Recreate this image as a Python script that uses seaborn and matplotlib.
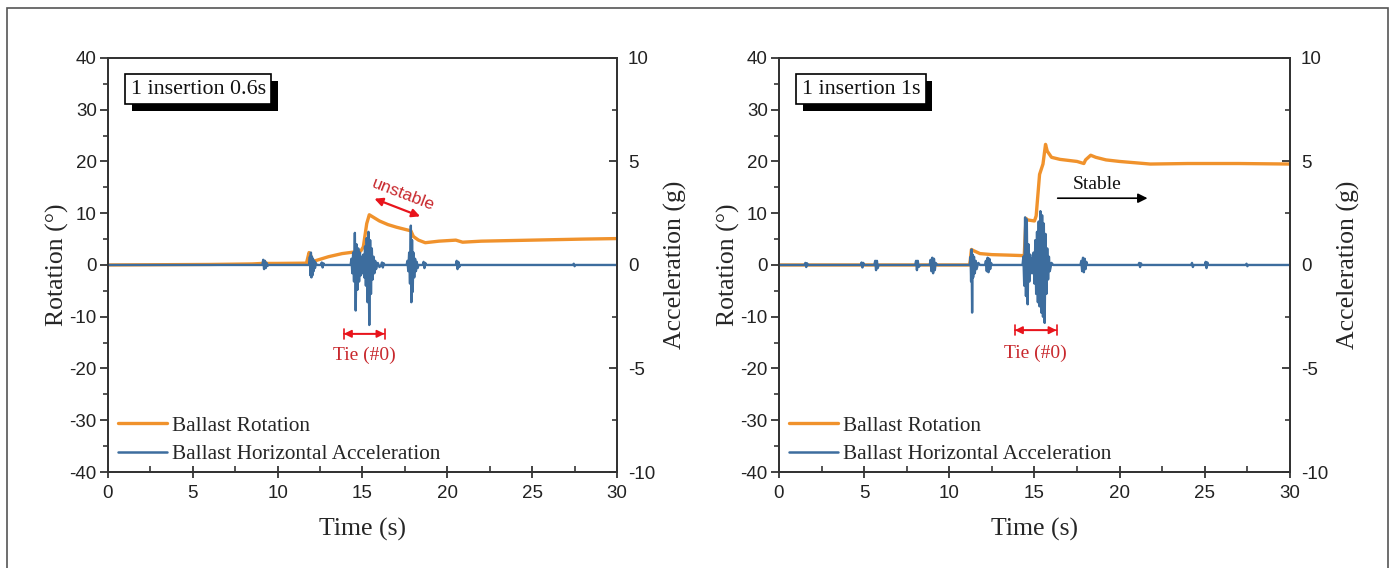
import matplotlib
matplotlib.use("Agg")
import matplotlib.pyplot as plt
import matplotlib.patheffects as pe
from matplotlib.patches import Rectangle
from matplotlib.lines import Line2D
from matplotlib.ticker import MultipleLocator
import seaborn as sns
import pandas as pd

# ---------------- data ----------------
rot_left_t = [0, 3, 6, 8.5, 9.1, 9.2, 9.35, 10, 11.7, 11.85, 11.95, 12.05, 12.2, 13.0, 13.8,
              14.5, 14.9, 15.05, 15.25, 15.4, 15.6, 16.0, 16.5, 17.0, 17.6, 17.85, 18.0, 18.3,
              18.7, 19.5, 20.5, 20.7, 20.9, 22, 25, 28, 30]
rot_left = [0, 0.05, 0.1, 0.2, 0.3, 0.7, 0.3, 0.3, 0.35, 2.4, 1.8, 0.6, 0.8, 1.6, 2.2,
            2.5, 2.7, 3.5, 8.0, 9.7, 9.3, 8.5, 7.8, 7.3, 6.8, 6.6, 5.5, 4.8,
            4.3, 4.6, 4.8, 4.6, 4.4, 4.6, 4.8, 5.0, 5.1]

acc_left_t = [0, 9.1, 9.15, 9.2, 9.25, 9.3, 9.35, 9.4, 9.45,
              11.85, 11.9, 11.93, 11.96, 11.99, 12.02, 12.05, 12.08, 12.12, 12.16, 12.2, 12.25, 12.3,
              12.55, 12.6, 12.65, 12.7, 12.75,
              14.3, 14.35, 14.4, 14.45, 14.5, 14.55, 14.6, 14.65, 14.7, 14.75, 14.8, 14.85, 14.9,
              14.95, 15.0, 15.05, 15.1, 15.15, 15.2, 15.25, 15.3, 15.35, 15.4, 15.45, 15.5, 15.55,
              15.6, 15.65, 15.7, 15.75, 15.8, 15.9, 16.0, 16.1,
              16.15, 16.2, 16.25, 16.3,
              17.6, 17.65, 17.7, 17.75, 17.8, 17.85, 17.88, 17.92, 17.96, 18.0, 18.05, 18.1, 18.15,
              18.2, 18.25, 18.3,
              18.55, 18.6, 18.65, 18.7, 18.75,
              20.5, 20.55, 20.6, 20.65, 20.7, 20.75,
              27.4, 27.45, 27.5, 27.55, 30]
acc_left = [0, 0, 0.25, -0.2, 0.2, -0.15, 0.1, -0.05, 0,
            0, 0.4, -0.5, 0.6, -0.6, 0.4, -0.5, 0.3, -0.3, 0.2, -0.15, 0.1, 0,
            0, 0.12, -0.12, 0.08, 0,
            0, 0.3, -0.4, 0.6, -0.8, 1.55, -2.2, 1.0, -1.2, 0.8, -0.8, 0.6, -0.5,
            0.4, -0.4, 0.5, -0.6, 0.9, -1.0, 1.3, -1.8, 1.6, -2.9, 1.2, -1.4, 0.8,
            -0.7, 0.4, -0.4, 0.2, -0.2, 0.1, -0.1, 0,
            0.12, -0.12, 0.08, 0,
            0, 0.2, -0.3, 0.6, -0.9, 1.9, -1.8, 1.2, -1.3, 0.6, -0.6, 0.3, -0.3,
            0.15, -0.15, 0,
            0, 0.15, -0.15, 0.1, 0,
            0, 0.2, -0.2, 0.15, -0.1, 0,
            0, 0.06, -0.06, 0, 0]

rot_right_t = [0, 11.2, 11.3, 11.4, 11.8, 12.5, 13.5, 14.4, 14.5, 14.6, 15.0, 15.1, 15.3, 15.5,
               15.65, 15.75, 16.0, 16.5, 17.5, 17.9, 18.0, 18.3, 18.6, 19.2, 20, 21.8, 24, 27, 30]
rot_right = [0, 0, 3.0, 2.8, 2.2, 2.0, 1.9, 1.8, 9.0, 8.7, 8.5, 9.5, 17.5, 19.5,
             23.3, 22.0, 20.8, 20.4, 20.0, 19.6, 20.3, 21.2, 20.8, 20.3, 20.0, 19.5, 19.6, 19.6, 19.5]

acc_right_t = [0, 1.5, 1.55, 1.6, 1.65, 1.7, 4.8, 4.85, 4.9, 4.95, 5.0,
               5.6, 5.65, 5.7, 5.75, 5.8, 5.85, 8.0, 8.05, 8.1, 8.15, 8.2, 8.3,
               8.85, 8.9, 8.95, 9.0, 9.05, 9.1, 9.15, 9.2, 9.3,
               11.2, 11.25, 11.28, 11.31, 11.34, 11.37, 11.4, 11.45, 11.5, 11.55, 11.6, 11.7, 11.8,
               12.1, 12.15, 12.2, 12.25, 12.3, 12.35, 12.4, 12.45, 12.5,
               14.3, 14.35, 14.4, 14.45, 14.5, 14.55, 14.6, 14.65, 14.7, 14.75, 14.8, 14.85, 14.9,
               14.95, 15.0, 15.05, 15.1, 15.15, 15.2, 15.25, 15.3, 15.35, 15.4, 15.45, 15.5, 15.55,
               15.6, 15.65, 15.7, 15.75, 15.8, 15.85, 15.9, 16.0, 16.1,
               17.7, 17.75, 17.8, 17.85, 17.9, 17.95, 18.0, 18.05, 18.1,
               21.1, 21.15, 21.2, 21.25, 21.3, 24.2, 24.25, 24.3, 24.35,
               25.0, 25.05, 25.1, 25.15, 25.2, 27.4, 27.45, 27.5, 27.55, 30]
acc_right = [0, 0, 0.1, -0.1, 0.08, 0, 0, 0.12, -0.12, 0.1, 0,
             0, 0.2, -0.25, 0.2, -0.15, 0, 0, 0.2, -0.25, 0.2, -0.1, 0,
             0, 0.25, -0.3, 0.35, -0.4, 0.3, -0.25, 0.1, 0,
             0, 0.4, -0.8, 0.75, -2.3, 0.5, -0.6, 0.4, -0.4, 0.2, -0.2, 0.1, 0,
             0, 0.2, -0.3, 0.35, -0.35, 0.3, -0.2, 0.1, 0,
             0, 0.4, -1.0, 2.3, -1.5, 2.2, -1.9, 1.0, -0.8, 0.5, -0.4, 0.3, -0.4,
             0.6, -0.9, 1.2, -1.4, 1.6, -1.8, 2.1, -2.0, 2.6, -2.3, 2.4, -2.5, 2.0,
             -2.8, 1.5, -1.4, 0.8, -0.7, 0.4, -0.3, 0.1, 0,
             0, 0.2, -0.3, 0.35, -0.35, 0.3, -0.2, 0.15, 0,
             0, 0.1, -0.1, 0.08, 0, 0, 0.1, -0.1, 0,
             0, 0.15, -0.15, 0.12, 0, 0, 0.06, -0.06, 0, 0]

panel_titles = ["1 insertion 0.6s", "1 insertion 1s"]
x_ticks = [0, 5, 10, 15, 20, 25, 30]
rot_ticks = [-40, -30, -20, -10, 0, 10, 20, 30, 40]
acc_ticks = [-10, -5, 0, 5, 10]

ORANGE = "#F0922C"
BLUE = "#3D6D9E"
RED = "#E8141C"
DARKRED = "#C8282D"
SERIF = ["Liberation Serif", "DejaVu Serif"]
SANS = ["Liberation Sans", "DejaVu Sans"]

sns.set_style("ticks")
plt.rcParams["font.family"] = SANS
plt.rcParams["axes.edgecolor"] = "#333333"
plt.rcParams["axes.linewidth"] = 1.3
plt.rcParams["axes.unicode_minus"] = False

fig = plt.figure(figsize=(13.95, 5.68), dpi=100)
fig.patches.append(Rectangle((0.005, -0.02), 0.99, 1.006, transform=fig.transFigure,
                             fill=False, edgecolor="#555555", linewidth=1.2))

positions = [[0.0774, 0.169, 0.3649, 0.729], [0.5584, 0.169, 0.3663, 0.729]]
rot_data = [(rot_left_t, rot_left), (rot_right_t, rot_right)]
acc_data = [(acc_left_t, acc_left), (acc_right_t, acc_right)]

for i in range(2):
    ax = fig.add_axes(positions[i])
    ax2 = ax.twinx()
    dfr = pd.DataFrame({"t": rot_data[i][0], "v": rot_data[i][1]})
    dfa = pd.DataFrame({"t": acc_data[i][0], "v": acc_data[i][1]})
    sns.lineplot(data=dfr, x="t", y="v", ax=ax, color=ORANGE, linewidth=2.4,
                 estimator=None, sort=False)
    sns.lineplot(data=dfa, x="t", y="v", ax=ax2, color=BLUE, linewidth=1.7,
                 estimator=None, sort=False)

    ax.set_xlim(0, 30)
    ax.set_ylim(-40, 40)
    ax2.set_ylim(-10, 10)
    ax.set_xticks(x_ticks)
    ax.set_yticks(rot_ticks)
    ax2.set_yticks(acc_ticks)
    ax.xaxis.set_minor_locator(MultipleLocator(2.5))
    ax.yaxis.set_minor_locator(MultipleLocator(5))
    ax2.yaxis.set_minor_locator(MultipleLocator(2.5))

    ax.tick_params(axis="x", which="major", direction="inout", length=9, width=1.2,
                   labelsize=13.5, colors="#222222", pad=5)
    ax.tick_params(axis="x", which="minor", direction="in", length=4, width=1.1)
    ax.tick_params(axis="y", which="major", direction="out", length=6, width=1.2,
                   labelsize=13.5, colors="#222222", pad=2)
    ax.tick_params(axis="y", which="minor", direction="out", length=3.5, width=1.1)
    ax2.tick_params(axis="y", which="major", direction="in", length=6, width=1.2,
                    labelsize=13.5, colors="#222222", pad=8)
    ax2.tick_params(axis="y", which="minor", direction="in", length=3.5, width=1.1)

    ax.set_xlabel("Time (s)", fontsize=18.5, family=SERIF, labelpad=11)
    ax.set_ylabel("Rotation (°)", fontsize=18.5, family=SERIF, labelpad=0)
    ax2.set_ylabel("Acceleration (g)", fontsize=18.5, family=SERIF, labelpad=6)
    for s in ["top", "right", "left", "bottom"]:
        ax.spines[s].set_visible(True)
        ax2.spines[s].set_visible(True)

    # title box with drop shadow
    t = ax2.text(0.045, 0.924, panel_titles[i], transform=ax.transAxes, fontsize=15.8,
                 family=SERIF, ha="left", va="center", color="#111111", zorder=6,
                 bbox=dict(boxstyle="square,pad=0.25", fc="white", ec="black", lw=1.2))
    t.get_bbox_patch().set_path_effects([
        pe.SimplePatchShadow(offset=(4.5, -4.5), shadow_rgbFace="black", alpha=1.0),
        pe.Normal()])

    # legend
    handles = [Line2D([], [], color=ORANGE, lw=2.4), Line2D([], [], color=BLUE, lw=1.8)]
    ax2.legend(handles, ["Ballast Rotation", "Ballast Horizontal Acceleration"],
               loc="lower left", bbox_to_anchor=(-0.005, -0.012), frameon=False,
               prop={"family": SERIF, "size": 15.3}, handlelength=2.3, handletextpad=0.25,
               labelspacing=0.4, borderaxespad=0.2)


def tie_arrow(ax, x0, x1, y):
    ax.annotate("", xy=(x0, y), xytext=(x1, y),
                arrowprops=dict(arrowstyle="<|-|>", color=RED, lw=1.3, mutation_scale=11,
                                shrinkA=0, shrinkB=0))
    ax.annotate("", xy=(x0, y), xytext=(x1, y),
                arrowprops=dict(arrowstyle="|-|,widthA=0.35,widthB=0.35", color=RED, lw=1.2,
                                shrinkA=0, shrinkB=0))


# Left annotations
axL = fig.axes[0]
axL.annotate("", xy=(15.55, 13.0), xytext=(18.55, 9.2),
             arrowprops=dict(arrowstyle="<|-|>", color=RED, lw=1.6, mutation_scale=12))
axL.text(17.4, 13.6, "unstable", color=DARKRED, fontsize=12.5, rotation=-21,
         ha="center", va="center", family=SANS)
tie_arrow(axL, 13.9, 16.3, -13.3)
axL.text(15.1, -17.5, "Tie (#0)", color=DARKRED, fontsize=14, ha="center", va="center",
         family=SERIF)

# Right annotations
axR = fig.axes[2]
axR.annotate("", xy=(21.8, 12.9), xytext=(16.2, 12.9),
             arrowprops=dict(arrowstyle="-|>", color="black", lw=1.2, mutation_scale=14))
axR.text(18.7, 15.5, "Stable", color="#111111", fontsize=14, ha="center", va="center",
         family=SERIF)
tie_arrow(axR, 13.85, 16.3, -12.6)
axR.text(15.05, -17.1, "Tie (#0)", color=DARKRED, fontsize=14, ha="center", va="center",
         family=SERIF)

fig.savefig("out.png", dpi=100)
